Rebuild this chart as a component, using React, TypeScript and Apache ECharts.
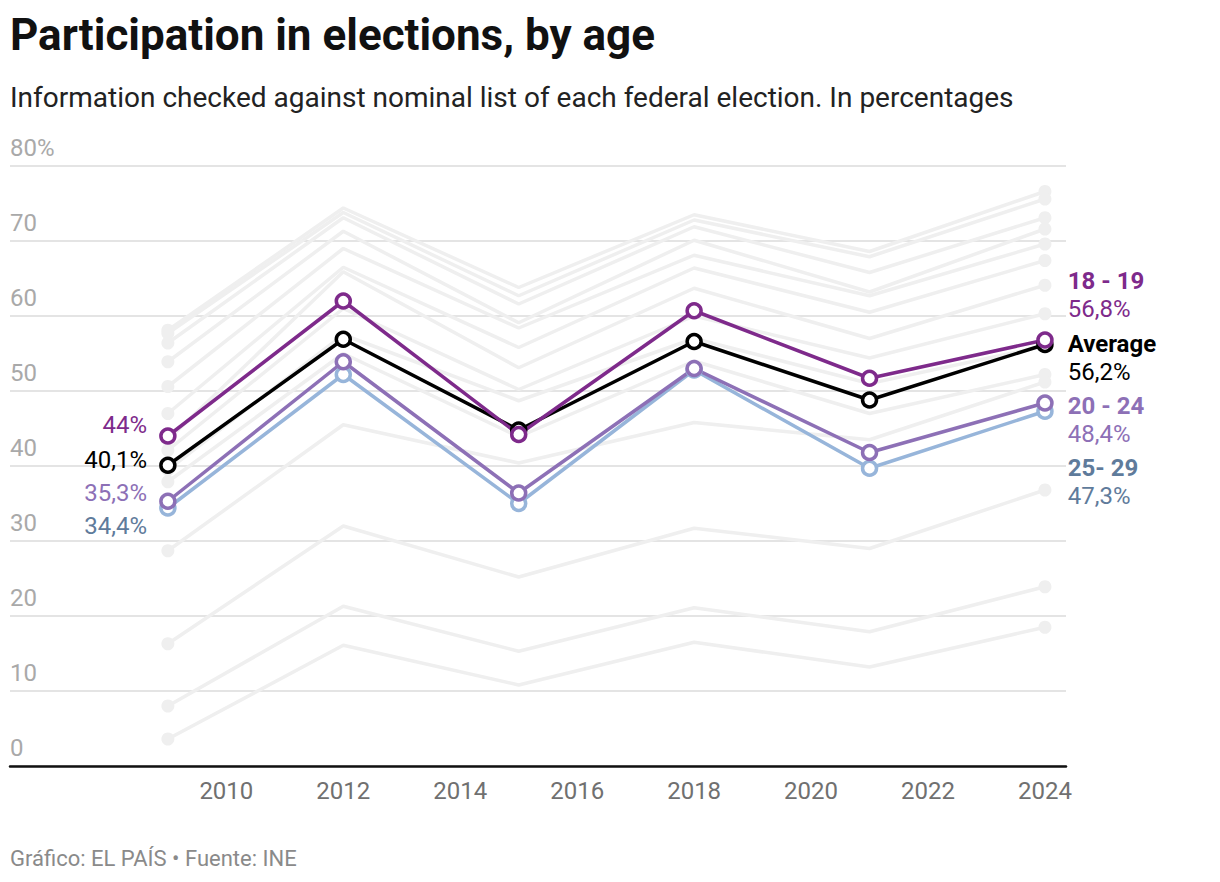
import React, { useEffect, useRef } from "react";
import * as echarts from "echarts";

const years = [2009, 2012, 2015, 2018, 2021, 2024];
const xTickLabels = [2010, 2012, 2014, 2016, 2018, 2020, 2022, 2024];

const age18_19 = [44, 62.0, 44.2, 60.7, 51.7, 56.8];
const average = [40.1, 56.9, 44.8, 56.6, 48.8, 56.2];
const age20_24 = [35.3, 53.9, 36.4, 53.0, 41.8, 48.4];
const age25_29 = [34.4, 52.2, 35.0, 52.8, 39.7, 47.3];

const gray1 = [58.1, 74.4, 63.8, 73.5, 68.6, 76.6];
const gray2 = [57.7, 73.8, 62.7, 72.8, 67.9, 75.6];
const gray3 = [56.4, 73.1, 61.6, 71.9, 65.8, 73.1];
const gray4 = [53.9, 71.3, 59.1, 70.1, 63.2, 71.6];
const gray5 = [50.6, 69.0, 58.4, 68.1, 62.7, 69.6];
const gray6 = [47.0, 66.5, 55.8, 66.4, 60.5, 67.4];
const gray7 = [43.5, 65.9, 53.1, 63.7, 57.0, 64.1];
const gray8 = [42.1, 61.0, 50.2, 60.0, 54.4, 60.3];
const gray9 = [39.5, 57.5, 48.7, 57.0, 51.0, 56.0];
const gray10 = [37.9, 55.0, 43.9, 54.0, 47.0, 52.2];
const gray11 = [28.7, 45.5, 40.4, 45.8, 43.5, 51.2];
const gray12 = [16.3, 32.0, 25.2, 31.7, 29.0, 36.8];
const gray13 = [8.0, 21.3, 15.3, 21.1, 17.9, 23.9];
const gray14 = [3.6, 16.1, 10.8, 16.5, 13.2, 18.5];

const grayLines = [gray1, gray2, gray3, gray4, gray5, gray6, gray7, gray8, gray9, gray10, gray11, gray12, gray13, gray14];

const fmt = (v: number) => String(v).replace(".", ",") + "%";

const FONT = "Roboto, 'Noto Sans', sans-serif";

function highlight(
  name: string,
  values: number[],
  lineColor: string,
  textColor: string,
  leftOffset: number,
  rightOffset: number
) {
  const last = values.length - 1;
  return {
    type: "line",
    name,
    silent: true,
    emphasis: { disabled: true },
    symbol: "circle",
    symbolSize: 14,
    lineStyle: { color: lineColor, width: 3.5 },
    itemStyle: { color: "#ffffff", borderColor: lineColor, borderWidth: 3.5 },
    z: 5,
    data: values.map((v, i) => {
      const item: any = { value: [years[i], v] };
      if (i === 0) {
        item.label = {
          show: true,
          position: "left",
          distance: 12,
          offset: [0, leftOffset],
          formatter: fmt(v),
          color: textColor,
          fontSize: 24,
          fontFamily: FONT,
        };
      } else if (i === last) {
        item.label = {
          show: true,
          position: "right",
          distance: 14,
          offset: [0, rightOffset],
          formatter: `{n|${name}}\n{v|${fmt(v)}}`,
          rich: {
            n: { fontSize: 24, fontWeight: "bold", color: textColor, fontFamily: FONT, lineHeight: 28 },
            v: { fontSize: 24, color: textColor, fontFamily: FONT, lineHeight: 28 },
          },
        };
      }
      return item;
    }),
  };
}

export default function App() {
  const ref = useRef<HTMLDivElement>(null);

  useEffect(() => {
    if (!ref.current) return;
    const chart = echarts.init(ref.current, undefined, { renderer: "svg" });

    const graySeries = grayLines.map((vals, k) => ({
      type: "line",
      name: "g" + k,
      silent: true,
      emphasis: { disabled: true },
      symbol: "circle",
      symbolSize: 13,
      lineStyle: { color: "#efefef", width: 3.5 },
      itemStyle: { color: "#efefef" },
      z: 2,
      data: vals.map((v, i) =>
        i === 0 || i === vals.length - 1
          ? { value: [years[i], v] }
          : { value: [years[i], v], symbol: "none" }
      ),
    }));

    chart.setOption({
      animation: false,
      backgroundColor: "#ffffff",
      textStyle: { fontFamily: FONT },
      title: [
        {
          text: "Participation in elections, by age",
          left: 10,
          top: 10,
          padding: 0,
          textStyle: { fontSize: 44, fontWeight: "bold", color: "#111111", fontFamily: FONT, lineHeight: 50 },
        },
        {
          text: "Information checked against nominal list of each federal election. In percentages",
          left: 10,
          top: 81,
          padding: 0,
          textStyle: { fontSize: 28, fontWeight: "normal", color: "#222222", fontFamily: FONT, lineHeight: 32 },
        },
        {
          text: "Gráfico: EL PAÍS • Fuente: INE",
          left: 10,
          top: 845,
          padding: 0,
          textStyle: { fontSize: 22, fontWeight: "normal", color: "#8a8a8a", fontFamily: FONT, lineHeight: 26 },
        },
      ],
      grid: { left: 10, right: 154, top: 166, bottom: 116, containLabel: false },
      xAxis: {
        type: "value",
        min: 2006.3,
        max: 2024.36,
        axisLine: { show: true, lineStyle: { color: "#111111", width: 2.5 } },
        axisTick: { show: false },
        splitLine: { show: false },
        axisLabel: {
          customValues: xTickLabels,
          fontSize: 24,
          color: "#707070",
          margin: 13,
          fontFamily: FONT,
          formatter: (v: number) => String(v),
        },
      },
      yAxis: {
        type: "value",
        min: 0,
        max: 80,
        interval: 10,
        axisLine: { show: false },
        axisTick: { show: false },
        splitLine: { show: true, lineStyle: { color: "#e4e4e4", width: 2 } },
        axisLabel: {
          inside: true,
          margin: 0,
          align: "left",
          verticalAlign: "bottom",
          padding: [0, 0, 6, 0],
          fontSize: 24,
          lineHeight: 24,
          color: "#a9a9a9",
          fontFamily: FONT,
          formatter: (v: number) => (v === 80 ? "80%" : String(v)),
        },
      },
      series: [
        ...graySeries,
        highlight("25- 29", age25_29, "#97b5da", "#5f7b9b", 18, 71),
        highlight("20 - 24", age20_24, "#8d70b6", "#8d70b6", -8, 17),
        highlight("Average", average, "#000000", "#000000", -5, 13),
        highlight("18 - 19", age18_19, "#7e2a8b", "#7e2a8b", -11, -45),
      ],
    });

    return () => chart.dispose();
  }, []);

  return (
    <div
      ref={ref}
      style={{ position: "absolute", left: 0, top: 0, width: 1220, height: 882 }}
    />
  );
}
